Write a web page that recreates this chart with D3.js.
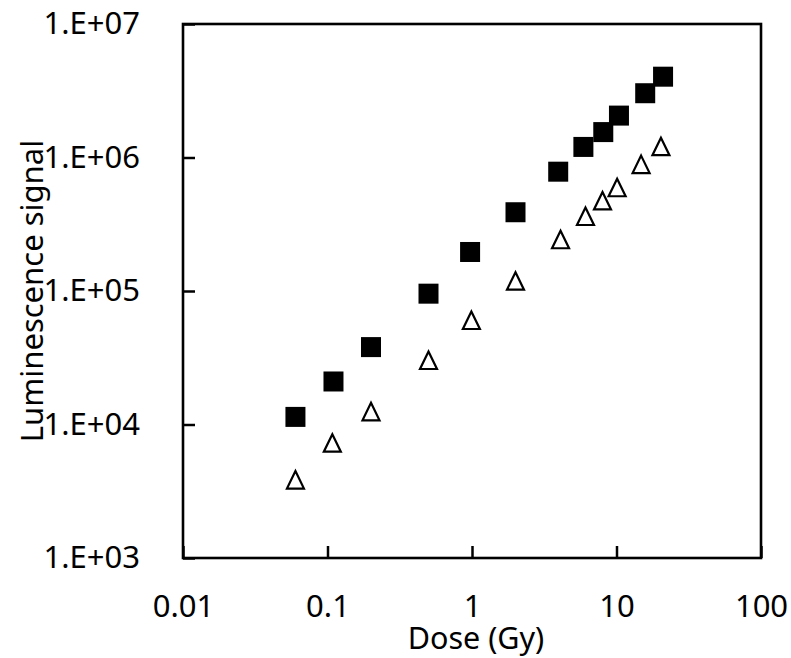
<!DOCTYPE html>
<html>
<head>
  <meta charset="utf-8">
  <style>
    body {
      margin: 0;
      background: #fff;
      font-family: "Noto Sans", "Open Sans", sans-serif;
    }
    .tick text {
      font-family: "Noto Sans", "Open Sans", sans-serif;
      font-size: 31px;
      fill: #000;
    }
    .axis-title {
      font-size: 31px;
      fill: #000;
    }
  </style>
</head>
<body>
  <svg id="chart"></svg>

  <script src="https://cdnjs.cloudflare.com/ajax/libs/d3/7.8.5/d3.min.js"></script>
  <script>
    // filled squares series
    const squareDose = [0.06, 0.11, 0.2, 0.5, 0.97, 2, 3.95, 5.9, 8.1, 10.4, 15.8, 21];
    const squareSignal = [11400, 21000, 38000, 95500, 196000, 389000, 783000, 1200000, 1550000, 2060000, 3030000, 4030000];

    // open triangles series
    const triangleDose = [0.06, 0.108, 0.2, 0.5, 0.99, 2.0, 4.1, 6.1, 8.0, 10.1, 14.8, 20.3];
    const triangleSignal = [3850, 7280, 12500, 30300, 60400, 119000, 243000, 363000, 475000, 596000, 888000, 1210000];

    const xTicks = [0.01, 0.1, 1, 10, 100];
    const xTickLabels = ["0.01", "0.1", "1", "10", "100"];
    const yTicks = [1e3, 1e4, 1e5, 1e6, 1e7];
    const yTickLabels = ["1.E+03", "1.E+04", "1.E+05", "1.E+06", "1.E+07"];

    const width = 791, height = 658;
    const margin = { top: 24, right: 30, bottom: 100, left: 183 };
    const plotW = 761 - margin.left;
    const plotH = 558 - margin.top;

    const svg = d3.select("#chart")
      .attr("width", width)
      .attr("height", height);

    const x = d3.scaleLog().domain([0.01, 100]).range([margin.left, margin.left + plotW]);
    const y = d3.scaleLog().domain([1e3, 1e7]).range([margin.top + plotH, margin.top]);

    svg.append("g")
      .attr("transform", `translate(0,${margin.top + plotH})`)
      .call(d3.axisBottom(x)
        .tickValues(xTicks)
        .tickFormat((d, i) => xTickLabels[i])
        .tickSize(-12)
        .tickSizeOuter(0)
        .tickPadding(37));

    svg.append("g")
      .attr("transform", `translate(${margin.left},0)`)
      .call(d3.axisLeft(y)
        .tickValues(yTicks)
        .tickFormat((d, i) => yTickLabels[i])
        .tickSize(-12)
        .tickSizeOuter(0)
        .tickPadding(43));

    svg.selectAll(".domain").remove();
    svg.selectAll(".tick line").attr("stroke", "#000").attr("stroke-width", 2.5);

    // plot frame
    svg.append("rect")
      .attr("x", margin.left)
      .attr("y", margin.top)
      .attr("width", plotW)
      .attr("height", plotH)
      .attr("fill", "none")
      .attr("stroke", "#000")
      .attr("stroke-width", 2.6);

    // axis titles
    svg.append("text")
      .attr("class", "axis-title")
      .attr("x", margin.left + plotW / 2 + 4)
      .attr("y", 649)
      .attr("text-anchor", "middle")
      .style("font-size", "30.5px")
      .text("Dose (Gy)");

    svg.append("text")
      .attr("class", "axis-title")
      .attr("transform", `translate(43,${margin.top + plotH / 2}) rotate(-90)`)
      .attr("text-anchor", "middle")
      .text("Luminescence signal");

    const squares = squareDose.map((d, i) => ({ dose: d, signal: squareSignal[i] }));
    const triangles = triangleDose.map((d, i) => ({ dose: d, signal: triangleSignal[i] }));

    const sq = 20;
    svg.append("g")
      .selectAll("rect")
      .data(squares)
      .join("rect")
      .attr("x", d => x(d.dose) - sq / 2)
      .attr("y", d => y(d.signal) - sq / 2)
      .attr("width", sq)
      .attr("height", sq)
      .attr("fill", "#000");

    // triangle drawn around its box centre
    const tw = 17, th = 17.5;
    svg.append("g")
      .selectAll("path")
      .data(triangles)
      .join("path")
      .attr("transform", d => `translate(${x(d.dose)},${y(d.signal)})`)
      .attr("d", `M0,${-th / 2}L${tw / 2},${th / 2}L${-tw / 2},${th / 2}Z`)
      .attr("fill", "#fff")
      .attr("stroke", "#000")
      .attr("stroke-width", 2.2)
      .attr("stroke-linejoin", "miter");
  </script>
</body>
</html>
